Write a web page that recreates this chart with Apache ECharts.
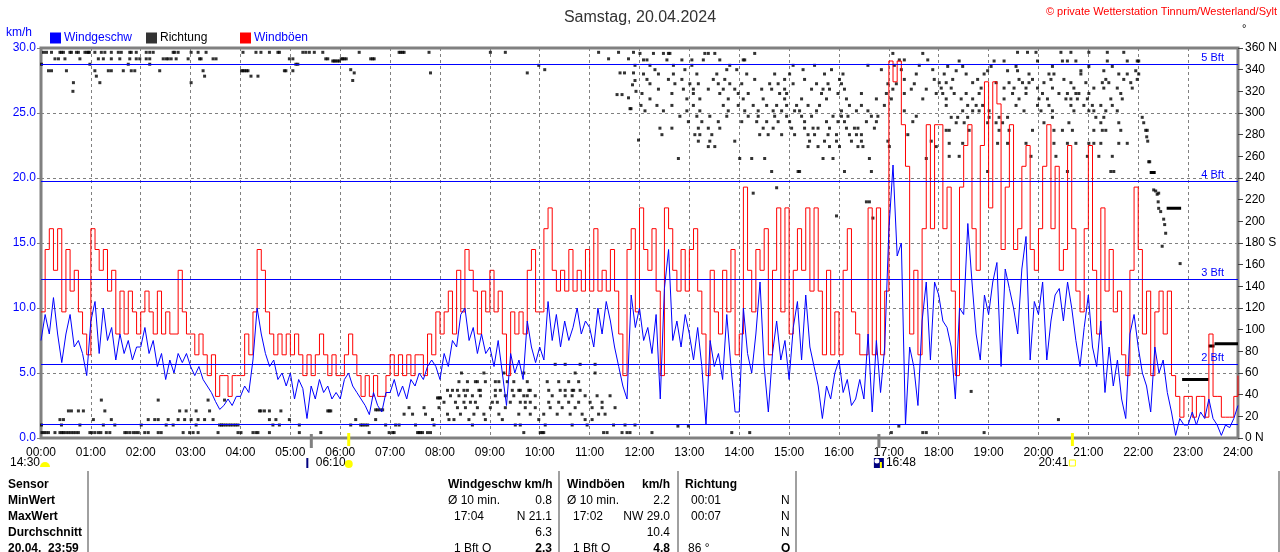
<!DOCTYPE html>
<html><head><meta charset="utf-8">
<script src="https://cdn.jsdelivr.net/npm/echarts@6/dist/echarts.min.js"></script>
<style>html,body{margin:0;padding:0;background:#fff}#c{width:1280px;height:552px}</style>
</head><body><div id="c"></div>
<script>
// ---- data (5-minute samples from 00:00 to 24:00) ----
const stepMinutes = 5;
const windSpeed = [
 7.5,9.5,8.0,10.8,8.0,5.8,8.0,9.5,7.0,7.5,6.5,4.8,
 9.0,10.5,6.5,10.0,7.5,8.5,6.0,8.0,6.5,7.5,6.0,7.0,
 7.0,8.5,6.5,7.5,5.5,6.5,4.5,6.0,5.0,6.5,5.8,6.5,
 5.5,4.8,5.5,4.5,4.0,3.5,2.8,2.2,2.5,3.0,2.5,3.2,
 3.2,4.0,3.5,6.0,10.0,8.0,6.5,5.5,6.0,4.5,5.0,4.0,
 5.0,3.0,4.5,3.8,1.5,4.0,3.0,4.5,3.5,4.0,3.0,3.5,
 3.0,4.5,5.0,4.0,3.5,3.0,2.5,1.8,3.5,2.5,2.0,3.5,
 3.5,4.5,3.2,4.0,3.0,4.5,4.0,5.0,4.5,5.5,6.0,5.5,
 4.5,6.5,5.5,7.5,7.0,9.5,10.0,7.5,8.5,6.5,8.0,6.5,
 7.0,5.5,7.5,5.0,2.5,6.5,5.0,6.0,4.5,9.0,7.0,5.8,
 7.0,6.0,10.5,7.5,9.5,7.0,9.0,7.5,8.5,10.0,8.0,9.0,
 8.5,7.0,10.0,8.0,10.5,9.0,7.0,5.5,4.0,3.0,11.0,8.5,
 10.0,7.5,8.5,6.5,9.5,3.0,11.5,14.5,7.5,9.0,7.0,9.5,
 8.0,6.0,8.5,5.5,1.0,7.5,5.5,6.5,4.5,9.5,5.5,2.0,
 2.0,10.0,6.5,5.0,8.0,12.0,5.5,2.0,6.5,9.0,6.0,7.5,
 4.5,8.5,10.5,6.0,11.0,7.0,5.5,4.0,1.5,4.0,3.0,5.0,
 6.0,3.5,4.5,2.5,3.0,4.5,3.0,8.0,2.0,7.5,3.5,7.0,
 16.0,21.0,14.0,15.0,1.0,7.0,5.5,2.5,9.0,12.0,6.0,12.0,
 11.0,9.0,8.5,7.0,3.0,10.0,9.5,16.5,12.0,8.0,6.0,11.0,
 9.5,12.0,13.5,5.5,13.0,11.5,10.0,8.0,13.0,15.5,6.0,10.5,
 9.5,12.0,6.0,9.0,11.0,11.5,9.0,12.0,10.0,7.5,5.5,8.5,
 11.0,7.0,5.5,9.0,3.5,7.0,4.0,6.0,3.0,1.5,8.0,9.5,
 7.0,5.0,4.0,2.0,7.0,5.0,6.0,3.5,2.0,0.2,1.5,1.0,
 1.0,2.0,1.0,2.0,1.5,3.0,1.5,1.0,0.2,1.0,0.8,1.5,
 2.5
];
const windGust = [
 9.7,14.5,16.1,12.9,16.1,9.7,14.5,11.3,12.9,9.7,8.0,6.4,
 16.1,14.5,12.9,14.5,11.3,12.9,8.0,11.3,8.0,11.3,9.7,8.0,
 9.7,11.3,9.7,8.0,11.3,8.0,9.7,8.0,8.0,12.9,9.7,8.0,
 8.0,6.4,8.0,6.4,4.8,6.4,3.2,4.8,4.8,3.2,4.8,4.8,
 4.8,8.0,6.4,9.7,14.5,12.9,9.7,8.0,6.4,8.0,6.4,8.0,
 6.4,8.0,6.4,4.8,6.4,4.8,6.4,8.0,6.4,4.8,6.4,4.8,
 4.8,6.4,8.0,6.4,4.8,3.2,4.8,3.2,4.8,3.2,3.2,4.8,
 6.4,4.8,6.4,4.8,6.4,4.8,6.4,6.4,4.8,8.0,6.4,9.7,
 8.0,9.7,11.3,8.0,12.9,9.7,14.5,12.9,11.3,8.0,11.3,9.7,
 12.9,9.7,11.3,8.0,4.8,9.7,8.0,9.7,8.0,12.9,14.5,9.7,
 9.7,16.1,17.7,12.9,11.3,12.9,11.3,14.5,11.3,12.9,11.3,14.5,
 11.3,16.1,11.3,12.9,11.3,14.5,11.3,8.0,4.8,14.5,16.1,9.7,
 17.7,14.5,12.9,16.1,11.3,4.8,17.7,16.1,12.9,11.3,14.5,11.3,
 14.5,16.1,11.3,8.0,4.8,12.9,9.7,8.0,12.9,9.7,14.5,6.4,
 8.0,19.3,12.9,9.7,14.5,12.9,16.1,6.4,12.9,17.7,9.7,17.7,
 8.0,12.9,16.1,12.9,17.7,11.3,17.7,11.3,6.4,12.9,6.4,9.7,
 6.4,12.9,16.1,9.7,8.0,6.4,6.4,17.7,6.4,17.7,6.4,11.3,
 29.0,27.4,29.0,24.1,20.9,8.0,12.9,6.4,16.1,24.1,16.1,24.1,
 24.1,16.1,19.3,11.3,4.8,19.3,22.5,24.1,16.1,12.9,22.5,27.4,
 17.7,27.4,25.7,14.5,19.3,24.1,14.5,16.1,20.9,22.5,14.5,12.9,
 16.1,20.9,24.1,16.1,20.9,12.9,14.5,22.5,16.1,11.3,9.7,16.1,
 22.5,12.9,8.0,17.7,11.3,14.5,9.7,11.3,6.4,4.8,12.9,19.3,
 14.5,8.0,11.3,4.8,9.7,11.3,8.0,11.3,4.8,3.2,1.6,3.2,
 3.2,1.6,3.2,3.2,1.6,8.0,3.2,3.2,1.6,1.6,1.6,3.2,
 4.8
];
// wind direction samples: [degrees, [times in hours]]
const dirRows = [
 [356,[0.05,0.11,0.21,0.38,0.41,0.45,0.58,0.61,0.71,0.75,0.88,0.92,0.95,0.97,1.08,1.21,1.28,1.41,1.55,1.61,1.78,1.81,1.91,2.11,2.18,2.25,2.65,2.68,2.75,3.01,3.15,3.31,4.05,4.31,4.41,4.58,4.75,4.78,5.25,5.31,5.38,5.48,5.65]],
 [350,[0.28,0.35,0.48,0.78,1.15,1.25,1.41,1.58,1.78,1.91,1.98,2.11,2.18,2.45,2.51,2.55,2.61,2.71,2.95,3.18,3.21,3.45,3.51,4.98,5.05,5.71,5.75,6.02,6.05,6.08,6.12]],
 [348,[5.85,5.88,5.91,5.95,5.98]],
 [345,[0.01,0.98,1.75,2.18,5.11,5.15]],
 [339,[0.15,0.21,0.51,1.08,1.35,1.41,1.65,1.81,1.88,2.38,3.25,4.02,4.05,4.08,4.12,4.15,4.88,4.91,5.05]],
 [334,[1.11,3.28,4.21,4.35]],
 [328,[0.65,1.18,3.01]],
 [320,[0.64]],
 [5,[0.02,0.06,0.1,0.15,0.28,0.38,0.42,0.45,0.5,0.55,0.6,0.65,0.7,0.75,0.98,1.02,1.08,1.15,1.2,1.31,1.38,1.68,1.72,1.78,1.85,1.9,1.95,2.08,2.15,2.35,2.41,2.85,2.98,3.05,3.15,3.55,3.95,4.01,4.25,4.31,4.35,4.58,5.18,5.61]],
 [12,[0.01,0.41,0.78,1.25,1.48,2.01,2.51,2.65,3.11,3.58,3.62,3.65,3.7,3.75,3.8,3.85,3.9,3.95,4.65,4.78,5.18]],
 [17,[0.38,0.45,1.05,1.41,2.15,2.28,2.35,2.55,2.75,2.88,3.01,3.15,3.28,3.45,4.58,4.71,4.98]],
 [25,[0.55,0.61,0.75,0.85,1.28,2.78,2.91,3.11,3.38,4.38,4.41,4.48,4.58,4.81,5.75,5.78,5.81]],
 [35,[1.21,2.35,3.35,3.68]],
 [356,[6.38,7.18,7.21,7.25,7.28,7.78,9.01,9.31,11.18,11.58,11.88]],
 [350,[6.61,6.65,6.68,11.38,11.78]],
 [344,[9.98,11.91]],
 [340,[6.21,10.1]],
 [337,[6.28,7.81,9.75,11.61,11.7,11.88]],
 [330,[6.25,11.91]],
 [326,[11.86]],
 [320,[11.93]],
 [317,[11.55,11.65]],
 [314,[11.78]],
 [304,[11.81,11.83]],
 [275,[11.98]],
 [5,[6.58,6.98,7.05,7.08,7.55,7.58,7.61,7.65,7.75,7.81,9.68,10.01,10.05,10.08,11.28,11.35,11.65,11.75,11.81]],
 [12,[6.21,6.41,6.45,6.5,6.55,6.91,7.11,7.18,7.51,7.88,8.65,9.51,9.61,10.11,10.65,10.95,11.48,11.71,11.91]],
 [17,[6.31,6.71,7.85,8.18,8.28,8.58,8.91,9.25,9.98,10.91,11.05]],
 [26,[6.71,6.75,6.8,6.85]],
 [22,[7.28,7.45,7.71,8.15,8.41,8.68,8.88,9.18,9.58,9.81,10.08,10.35,10.61,10.85,11.18,11.31]],
 [28,[7.38,7.68,7.98,8.35,8.51,8.75,9.01,9.31,9.71,9.91,10.21,10.45,10.71,11.05,11.25,11.51]],
 [37,[7.95,7.98,8.01]],
 [33,[8.08,8.31,8.48,8.61,8.71,9.05,9.15,9.41,9.61,9.71,9.81,10.18,10.38,10.58,10.78,11.01,11.25]],
 [39,[8.21,8.38,8.51,8.65,8.81,9.11,9.31,9.48,9.68,9.75,9.91,10.25,10.51,10.65,10.91,11.15,11.41]],
 [44,[8.15,8.25,8.35,8.48,8.55,8.78,8.81,9.11,9.21,9.45,9.58,9.61,9.78,9.81,10.18,10.41,10.51,10.65,10.68,10.81]],
 [52,[8.38,8.55,8.71,8.75,8.91,9.11,9.18,9.35,9.48,9.75,10.15,10.38,10.58,10.78]],
 [60,[8.43,8.88,9.28,9.68,10.71,11.11]],
 [68,[10.31,10.51,10.81,11.11]],
 [355,[12.01,12.28,12.48,12.58,12.61,13.31,13.38,13.51,14.31,17.08,17.68]],
 [349,[12.08,12.15,12.55,12.85,13.05,13.28,13.61,14.08,14.11,17.21,17.31,17.78]],
 [344,[12.21,12.68,13.05,13.81,15.08,15.51,16.58,17.11,17.61]],
 [340,[12.31,12.91,13.75,13.95,15.28,15.85,16.85,17.25,17.88]],
 [336,[12.08,12.38,12.68,13.15,13.55,14.15,14.71,15.01,15.71,16.08,17.55]],
 [331,[12.15,12.58,12.85,13.48,13.71,14.31,14.91,15.31,16.01,17.31,17.91]],
 [327,[12.21,12.71,13.01,13.18,13.58,13.81,14.05,14.61,14.78,15.08,15.55,15.78,16.05,16.98,17.15,17.51]],
 [322,[12.38,12.88,13.08,13.38,13.68,13.91,14.45,14.65,14.91,15.45,15.68,15.81,16.11,17.08,17.45,17.75]],
 [318,[12.05,12.65,13.08,13.61,13.98,14.18,14.81,14.95,15.65,15.98,16.45,16.95,17.31,17.95]],
 [313,[12.21,12.95,13.21,13.78,14.08,14.48,14.91,15.25,15.75,16.15,16.75,17.05,17.68]],
 [307,[12.03,12.35,12.65,13.08,13.68,13.98,14.28,14.55,14.75,14.95,15.15,15.38,15.61,16.21,16.45,16.91]],
 [302,[12.11,12.48,12.95,13.21,13.78,14.11,14.38,14.68,14.85,15.11,15.21,15.55,16.05,16.35,16.58,17.31]],
 [297,[12.81,13.15,13.41,13.75,14.18,14.38,14.71,14.95,15.25,15.45,15.88,16.05,16.18,16.65,16.78,17.55]],
 [292,[12.98,13.25,13.58,14.05,14.35,14.55,14.78,15.01,15.31,15.75,15.98,16.11,16.55,16.75,17.48]],
 [286,[12.41,12.65,13.18,13.38,13.61,14.48,14.68,15.05,15.31,15.48,15.58,15.81,16.15,16.31,16.38,16.71]],
 [280,[12.45,13.11,13.21,13.45,14.41,14.58,14.85,15.11,15.38,15.51,15.78,15.95,16.21,16.35,16.45,17.38]],
 [274,[13.18,13.41,13.91,15.41,15.71,15.95,16.25,16.45,16.98,17.85]],
 [269,[13.38,13.51,15.38,15.58,15.81,16.01,16.38,16.48,17.01,17.95]],
 [258,[12.78,14.01,14.25,14.51,15.68,15.88,16.61,17.75]],
 [246,[14.65,15.18,15.21,16.11,16.65]],
 [231,[14.75]],[226,[14.28]],[218,[16.55,16.61]],[205,[15.95]],[203,[16.68]],
 [11,[12.77,12.98,17.2]],
 [5,[12.25,13.85,14.21,17.05,17.68,17.75]],
 [356,[19.58,19.78,19.95,20.45,20.65,21.01,21.38,21.71]],
 [348,[18.41,19.11,19.31,19.98,20.48,20.58,20.75,21.38,21.78,21.98,22.01]],
 [343,[18.18,18.48,19.05,19.55,20.28,21.01,21.48]],
 [339,[18.35,18.98,19.38,19.58,20.85,21.31,21.95]],
 [336,[18.11,18.55,18.91,19.81,20.21,20.31,20.85,21.61,21.78,22.01]],
 [331,[18.28,18.78,19.61,19.88,20.25,20.51,21.35,21.71,21.98]],
 [328,[18.01,18.15,18.68,19.15,19.41,19.68,19.81,20.11,20.65,20.95,21.28,21.41,21.85]],
 [323,[18.05,18.25,18.85,19.31,19.51,19.75,19.98,20.28,20.71,21.11,21.31,21.58,21.88]],
 [318,[18.08,18.31,18.55,18.81,19.48,19.75,20.08,20.41,20.58,20.75,20.81,21.01,21.65]],
 [313,[18.15,18.45,18.68,19.31,19.61,20.01,20.18,20.55,20.65,20.78,20.98,21.45,21.68]],
 [307,[18.15,18.58,18.75,18.88,19.55,19.98,20.21,20.65,20.91,21.08,21.25,21.48]],
 [302,[18.48,18.68,18.81,19.01,19.71,20.05,20.28,20.71,21.01,21.11,21.35,21.58]],
 [296,[18.25,18.38,18.58,19.01,19.21,19.38,20.28,21.15,21.31,22.08]],
 [291,[18.35,18.51,18.98,19.15,19.28,20.11,20.61,21.25,21.61,22.11]],
 [284,[18.15,18.21,18.61,19.21,19.41,19.88,20.31,20.48,20.68,21.11,21.28,21.35,21.65,22.15,22.18]],
 [272,[18.21,18.48,19.18,19.38,19.75,20.31,20.58,20.75,21.01,21.11,21.25,21.61,21.78]],
 [260,[18.21,18.41,19.85,20.35,20.98,21.21,21.48]],
 [246,[18.98,20.58,21.45,21.51]],
 [43,[18.65]],[5,[18.91]],[17,[20.4]]
];
// single direction samples [time h, degrees]
const dirExtra = [[22.17,278],[22.19,274],[22.21,255],[22.23,255],[22.31,229],[22.35,228],[22.38,225],[22.41,226],[22.4,218],[22.41,212],[22.45,209],[22.51,202],[22.53,197],[22.55,189],[22.48,177],[22.84,161]];
// direction held constant over a span: [from h, to h, degrees]
const dirSegments = [[22.23,22.35,245],[22.57,22.86,212],[22.88,23.41,54],[23.41,23.53,85],[23.53,24.0,87]];
// Beaufort thresholds (km/h) as drawn in the picture
const bftLevels = [1.04, 5.65, 12.19, 19.73, 28.73];
const bftNames  = ['', '2 Bft', '3 Bft', '4 Bft', '5 Bft'];
// sun / moon event ticks on the time axis
const markerTimes  = [5.42, 6.17, 16.8, 20.68];
const markerColors = ['#808080', '#ffff00', '#808080', '#ffff00'];
// statistics table
const tableRowLabels = ['Sensor', 'MinWert', 'MaxWert', 'Durchschnitt', '20.04.  23:59'];

const FONT = '"Liberation Sans", Arial, sans-serif';
const pad2 = n => (n < 10 ? '0' : '') + n;
const speedData = windSpeed.map((v, i) => [i * stepMinutes / 60, v]);
const gustData = windGust.map((v, i) => [i * stepMinutes / 60, v]);
const dirPoints = [];
dirRows.forEach(([deg, times]) => times.forEach(t => dirPoints.push([t, deg])));
dirExtra.forEach(p => dirPoints.push(p));

const chart = echarts.init(document.getElementById('c'));
const legendBase = {top: 32, padding: 0, itemWidth: 11, itemHeight: 11, icon: 'rect', selectedMode: false,
  textStyle: {fontSize: 12, fontFamily: FONT, padding: [0, 0, 0, -2]}};

const series = [
  {name: 'Richtung', type: 'scatter', yAxisIndex: 1, data: dirPoints, symbol: 'rect', symbolSize: 3,
   itemStyle: {color: '#000'}, z: 1, silent: true},
  {name: 'Windböen', type: 'line', data: gustData, step: 'end', symbol: 'none', color: '#ff0000',
   lineStyle: {width: 1, color: '#ff0000'}, z: 2, silent: true,
   markLine: {silent: true, symbol: ['none', 'none'], animation: false,
     lineStyle: {color: '#0000ff', width: 1, type: 'solid', opacity: 1},
     label: {position: 'insideEndTop', color: '#0000ff', fontSize: 11, fontFamily: FONT, distance: [14, 1]},
     data: bftLevels.map((v, i) => ({yAxis: v, lineStyle: {color: '#0000ff'},
       label: {show: !!bftNames[i], formatter: bftNames[i] || ''}}))}},
  {name: 'Windgeschw', type: 'line', data: speedData, symbol: 'none', color: '#0000ff',
   lineStyle: {width: 1, color: '#0000ff'}, z: 3, silent: true}
];
dirSegments.forEach(([a, b, d], i) => series.push({name: 'seg' + i, type: 'line', yAxisIndex: 1,
  data: [[a, d], [b, d]], symbol: 'none', lineStyle: {color: '#000', width: 3}, z: 1, silent: true}));

chart.setOption({
  animation: false,
  backgroundColor: '#fff',
  title: {text: 'Samstag, 20.04.2024', left: 'center', top: 5,
    textStyle: {fontSize: 16, fontWeight: 'normal', color: '#333', fontFamily: FONT}},
  legend: [
    Object.assign({}, legendBase, {left: 50, data: [{name: 'Windgeschw', textStyle: {color: '#0000ff'}}]}),
    Object.assign({}, legendBase, {left: 146, data: [{name: 'Richtung', textStyle: {color: '#000'}}]}),
    Object.assign({}, legendBase, {left: 240, data: [{name: 'Windböen', textStyle: {color: '#0000ff'}}]})
  ],
  grid: {left: 41, right: 39, top: 48, bottom: 114, show: true, borderColor: '#808080', borderWidth: 3},
  xAxis: {type: 'value', min: 0, max: 24, interval: 1,
    axisLine: {show: false}, axisTick: {show: false},
    splitLine: {show: true, lineStyle: {color: '#808080', type: [3, 3], width: 1}},
    axisLabel: {formatter: v => pad2(v) + ':00', color: '#000', fontSize: 12, margin: 9, fontFamily: FONT}},
  yAxis: [
    {type: 'value', min: 0, max: 30, interval: 5, axisLine: {show: false},
     axisTick: {show: true, length: 4, lineStyle: {color: '#808080'}},
     splitLine: {show: true, lineStyle: {color: '#808080', type: [3, 3], width: 1}},
     axisLabel: {formatter: v => v.toFixed(1), color: '#0000ff', fontSize: 12, margin: 5, fontFamily: FONT}},
    {type: 'value', min: 0, max: 360, interval: 20, position: 'right', axisLine: {show: false},
     axisTick: {show: true, length: 5, lineStyle: {color: '#404040'}},
     splitLine: {show: false},
     axisLabel: {formatter: v => (v === 0 || v === 360) ? v + ' N' : (v === 180 ? '180 S' : '' + v),
       color: '#000', fontSize: 12, margin: 7, fontFamily: FONT}}
  ],
  series: series
});

// ---- extra texts, table and sun/moon markers ----
function txt(text, x, y, opt) {
  opt = opt || {};
  return {type: 'text', x: x, y: y, silent: true, z: 100,
    style: {text: text, fill: opt.color || '#000', textAlign: opt.align || 'left', textVerticalAlign: 'middle', verticalAlign: 'middle',
      font: (opt.bold ? 'bold ' : '') + (opt.size || 12) + 'px ' + FONT}};
}
const g = [];
g.push(txt('km/h', 6, 33, {color: '#0000ff'}));
g.push(txt('\u00a9 private Wetterstation Tinnum/Westerland/Sylt', 1277, 12, {color: '#ff0000', align: 'right', size: 11}));
g.push(txt('\u00b0', 1242, 29, {size: 11}));
// table
const rowY = [485, 501, 517, 533, 549];
tableRowLabels.forEach((t, i) => g.push(txt(t, 8, rowY[i], {bold: true})));
const cells = [
  ['Windgeschw km/h', 448, 0, 'left', true], ['Ø 10 min.', 448, 1, 'left'], ['0.8', 552, 1, 'right'],
  ['17:04', 454, 2, 'left'], ['N 21.1', 552, 2, 'right'], ['6.3', 552, 3, 'right'],
  ['1 Bft O', 454, 4, 'left'], ['2.3', 552, 4, 'right', true],
  ['Windböen', 567, 0, 'left', true], ['km/h', 670, 0, 'right', true], ['Ø 10 min.', 567, 1, 'left'], ['2.2', 670, 1, 'right'],
  ['17:02', 573, 2, 'left'], ['NW 29.0', 670, 2, 'right'], ['10.4', 670, 3, 'right'],
  ['1 Bft O', 573, 4, 'left'], ['4.8', 670, 4, 'right', true],
  ['Richtung', 685, 0, 'left', true], ['00:01', 691, 1, 'left'], ['N', 781, 1, 'left'],
  ['00:07', 691, 2, 'left'], ['N', 781, 2, 'left'], ['N', 781, 3, 'left'],
  ['86 °', 688, 4, 'left'], ['O', 781, 4, 'left', true]
];
cells.forEach(c => g.push(txt(c[0], c[1], rowY[c[2]], {align: c[3], bold: !!c[4]})));
[88, 559, 678, 796, 1279].forEach(x => g.push({type: 'rect', silent: true, z: 100,
  shape: {x: x - 1, y: 471, width: 2, height: 81}, style: {fill: '#a0a0a0'}}));
// markers
const mx = markerTimes.map(t => chart.convertToPixel({xAxisIndex: 0}, t));
mx.forEach((x, i) => g.push({type: 'rect', silent: true, z: 100,
  shape: {x: x - 1.5, y: markerColors[i] === '#808080' ? 434 : 433, width: 3, height: markerColors[i] === '#808080' ? 14 : 13},
  style: {fill: markerColors[i]}}));
g.push(txt('14:30', 10, 463));
g.push({type: 'sector', silent: true, z: 100, shape: {cx: 45, cy: 467, r: 5, startAngle: Math.PI, endAngle: 2 * Math.PI}, style: {fill: '#ffff00'}});
g.push({type: 'rect', silent: true, z: 100, shape: {x: mx[0] - 5, y: 458, width: 2, height: 10}, style: {fill: '#000080'}});
g.push(txt('06:10', mx[1] - 33, 463));
g.push({type: 'circle', silent: true, z: 100, shape: {cx: mx[1], cy: 464, r: 4}, style: {fill: '#ffff00'}});
g.push({type: 'rect', silent: true, z: 101, shape: {x: mx[2] - 5, y: 458, width: 10, height: 10}, style: {fill: '#000080'}});
g.push({type: 'circle', silent: true, z: 102, shape: {cx: mx[2] - 2, cy: 461, r: 2.5}, style: {fill: '#ffffff'}});
g.push({type: 'rect', silent: true, z: 102, shape: {x: mx[2] + 1, y: 462, width: 2, height: 6}, style: {fill: '#ffff00'}});
g.push(txt('16:48', mx[2] + 7, 463));
g.push(txt('20:41', mx[3] - 34, 463));
g.push({type: 'rect', silent: true, z: 100, shape: {x: mx[3] - 3, y: 460, width: 6, height: 6},
  style: {fill: 'none', stroke: '#ffff00', lineWidth: 1}});
chart.setOption({graphic: g});
</script>
</body></html>
